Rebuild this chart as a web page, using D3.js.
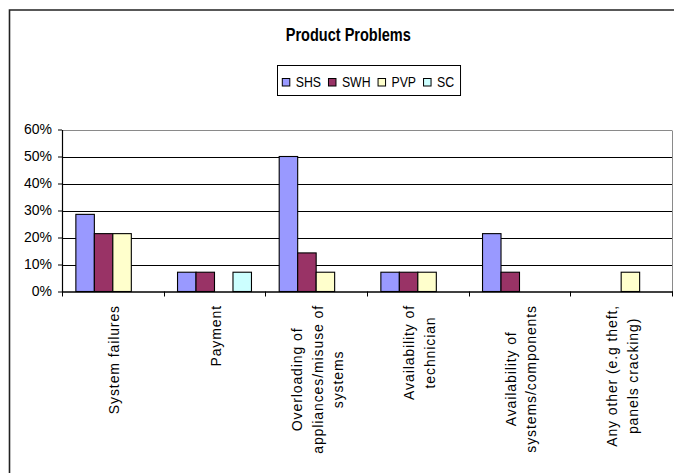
<!DOCTYPE html>
<html>
<head>
<meta charset="utf-8">
<script src="https://cdn.jsdelivr.net/npm/d3@7"></script>
<style>
  html, body { margin: 0; padding: 0; background: #fff; }
  svg { display: block; font-family: "Liberation Sans", Arial, sans-serif; }
</style>
</head>
<body>
<svg id="chart" width="674" height="473"></svg>
<script>
// Survey shares of reported product problems, per technology
const categories = [
  "System failures",
  "Payment",
  "Overloading of appliances/misuse of systems",
  "Availability of technician",
  "Availability of systems/components",
  "Any other (e.g theft, panels cracking)"
];
// How each category label wraps under the axis
const categoryLines = [
  ["System failures"],
  ["Payment"],
  ["Overloading of", "appliances/misuse of", "systems"],
  ["Availability of", "technician"],
  ["Availability of", "systems/components"],
  ["Any other (e.g theft,", "panels cracking)"]
];
const seriesNames = ["SHS", "SWH", "PVP", "SC"];
const SHS = [0.2857, 0.0714, 0.5000, 0.0714, 0.2143, 0];
const SWH = [0.2143, 0.0714, 0.1429, 0.0714, 0.0714, 0];
const PVP = [0.2143, 0,      0.0714, 0.0714, 0,      0.0714];
const SC  = [0,      0.0714, 0,      0,      0,      0];
const yTickValues = [0, 0.1, 0.2, 0.3, 0.4, 0.5, 0.6];
const titleText = "Product Problems";

const seriesValues = { SHS, SWH, PVP, SC };
const colors = { SHS: "#9999FF", SWH: "#993366", PVP: "#FFFFCC", SC: "#CCFFFF" };

const svg = d3.select("#chart");

// Chart frame (continues past the right and bottom edges)
svg.append("path")
  .attr("d", "M9.5,473 L9.5,10 L674,10")
  .attr("fill", "none")
  .attr("stroke", "#222")
  .attr("stroke-width", 1.6);

// Title
svg.append("text")
  .attr("transform", "translate(348.3,41) scale(0.83,1)")
  .attr("text-anchor", "middle")
  .attr("font-size", 17.5)
  .attr("font-weight", "bold")
  .attr("fill", "#000")
  .text(titleText);

// Scales
const plot = { left: 62, right: 672, top: 129.5, bottom: 291.5 };
const x = d3.scaleBand().domain(categories).range([plot.left, plot.right]).padding(0);
const xs = d3.scaleBand().domain(seriesNames).range([0, x.bandwidth()])
  .paddingInner(0).paddingOuter(0.75);
const y = d3.scaleLinear().domain([0, 0.6]).range([plot.bottom, plot.top]);

// Gridlines
svg.append("g").selectAll("line")
  .data(yTickValues.filter(d => d > 0))
  .join("line")
  .attr("x1", plot.left).attr("x2", plot.right)
  .attr("y1", d => Math.round(y(d)) + 0.5).attr("y2", d => Math.round(y(d)) + 0.5)
  .attr("stroke", d => d === 0.6 ? "#8a8a8a" : "#000")
  .attr("stroke-width", 1);

// Right edge of the plot area
svg.append("line")
  .attr("x1", plot.right + 0.5).attr("x2", plot.right + 0.5)
  .attr("y1", Math.round(y(0.6)) + 0.5).attr("y2", plot.bottom)
  .attr("stroke", "#8a8a8a");

// Bars
const barG = svg.append("g");
seriesNames.forEach(s => {
  barG.append("g").selectAll("rect")
    .data(categories.map((c, i) => ({ c, v: seriesValues[s][i] })).filter(d => d.v > 0))
    .join("rect")
    .attr("x", d => x(d.c) + xs(s))
    .attr("width", xs.bandwidth())
    .attr("y", d => y(d.v))
    .attr("height", d => y(0) - y(d.v))
    .attr("fill", colors[s])
    .attr("stroke", "#000")
    .attr("stroke-width", 1.1);
});

// Y axis
const yAxis = svg.append("g")
  .attr("transform", `translate(${plot.left},0)`)
  .call(d3.axisLeft(y).tickValues(yTickValues).tickFormat(d3.format(".0%"))
    .tickSize(4).tickSizeOuter(0).tickPadding(6));
yAxis.select(".domain").attr("stroke", "#000").attr("stroke-width", 1.2);
yAxis.selectAll(".tick line").attr("stroke", "#000");
yAxis.selectAll(".tick text")
  .attr("font-size", 14).attr("font-family", "Liberation Sans, Arial, sans-serif")
  .attr("fill", "#000");

// X axis with tick marks between categories
const xAxis = svg.append("g")
  .attr("transform", `translate(0,${plot.bottom})`)
  .call(d3.axisBottom(x).tickSize(0).tickFormat(""));
xAxis.select(".domain").attr("stroke", "#000").attr("stroke-width", 1.4)
  .attr("d", `M${plot.left},0.5H${plot.right + 1}`);
xAxis.selectAll(".tick").remove();
const edges = categories.map(c => x(c)).concat([x.range()[1]]);
xAxis.append("g").selectAll("line")
  .data(edges).join("line")
  .attr("x1", d => Math.round(d) + 0.5).attr("x2", d => Math.round(d) + 0.5)
  .attr("y1", 0).attr("y2", 5)
  .attr("stroke", "#000");

// Category labels, rotated and centred under each group
const labelTop = 305;
const linePitch = 20.5;
categories.forEach((c, i) => {
  const lines = categoryLines[i];
  const cx = x(c) + x.bandwidth() / 2;
  const g = svg.append("g");
  const texts = g.selectAll("text").data(lines).join("text")
    .attr("text-anchor", "middle")
    .attr("font-size", 14)
    .attr("letter-spacing", "0.9px")
    .attr("fill", "#000")
    .text(d => d);
  let maxLen = 0;
  texts.each(function () { maxLen = Math.max(maxLen, this.getComputedTextLength()); });
  const yc = labelTop + maxLen / 2;
  texts.attr("transform", (d, j) => {
    const bx = cx + 6.5 + (j - (lines.length - 1) / 2) * linePitch;
    return `translate(${bx},${yc}) rotate(-90)`;
  });
});

// Legend
const legend = svg.append("g");
const legendBox = legend.append("rect")
  .attr("fill", "#fff").attr("stroke", "#000").attr("stroke-width", 1);
const legendScaleX = 0.82;
let lx = 282.3;
const baseY = 86.5;
seriesNames.forEach(s => {
  legend.append("rect")
    .attr("x", lx).attr("y", 78.5)
    .attr("width", 7.5).attr("height", 7.5)
    .attr("fill", colors[s]).attr("stroke", "#000").attr("stroke-width", 1);
  const t = legend.append("text")
    .attr("transform", `translate(${lx + 13.4},${baseY}) scale(${legendScaleX},1)`)
    .attr("font-size", 15)
    .attr("fill", "#000")
    .text(s);
  const w = t.node().getComputedTextLength() * legendScaleX;
  lx += 13.4 + w + 7.5;
});
legendBox
  .attr("x", 277.5).attr("y", 65.5)
  .attr("width", (lx - 7.5 + 6.5) - 277.5)
  .attr("height", 30);
</script>
</body>
</html>
